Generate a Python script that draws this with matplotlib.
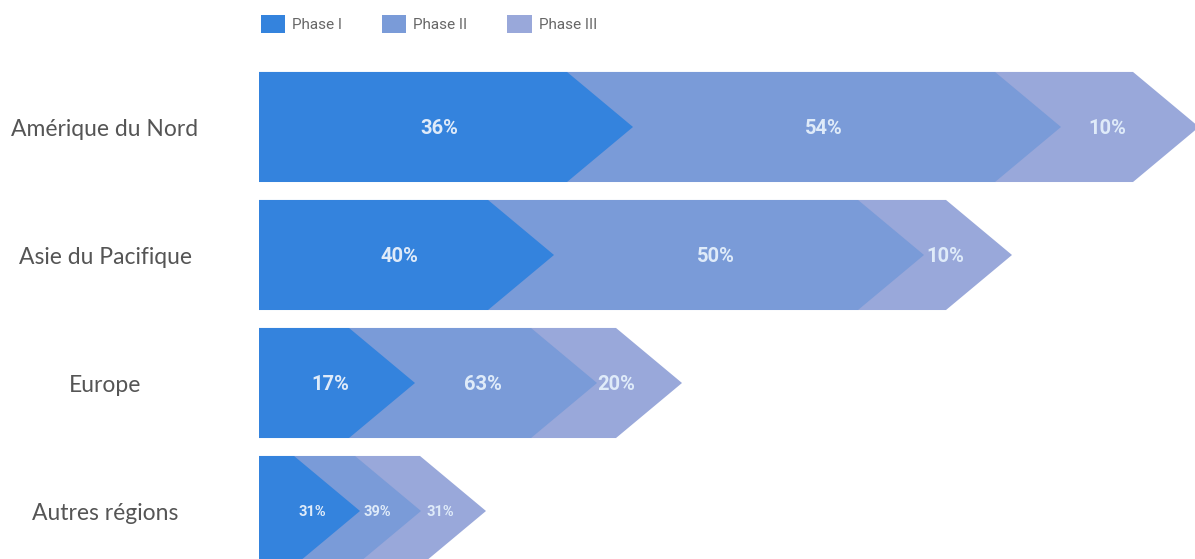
import matplotlib
matplotlib.use('Agg')
import matplotlib.pyplot as plt
from matplotlib.patches import Polygon, Patch

# data (segment lengths, labels as printed)
regions = ['Amérique du Nord', 'Asie du Pacifique', 'Europe', 'Autres régions']
phases = ['Phase I', 'Phase II', 'Phase III']
phase1 = [341, 262, 123, 68]
phase2 = [428, 370, 182, 61]
phase3 = [138, 88, 85, 65]
labels1 = ['36%', '40%', '17%', '31%']
labels2 = ['54%', '50%', '63%', '39%']
labels3 = ['10%', '10%', '20%', '31%']

colors = ['#3483DD', '#7A9BD8', '#99A8DA']
tip = 66          # arrow tip length, x units
bar_h = 0.86


def chevron(x0, x1, y, h, first):
    half = tip / 2
    top, bot = y - h / 2, y + h / 2
    left = x0 if first else x0 - half
    return [(left, top), (x1 - half, top), (x1 + half, y),
            (x1 - half, bot), (left, bot)]


fig = plt.figure(figsize=(11.95, 5.59), dpi=100)
ax = fig.add_axes([0, 0, 1, 1])
ax.set_xlim(-259, 936)
ax.set_ylim(3.375, -0.992)
ax.axis('off')

series = [phase1, phase2, phase3]
texts = [labels1, labels2, labels3]
for i, region in enumerate(regions):
    start = 0
    total = sum(s[i] for s in series)
    fs = 14.5 if total > 300 else 10.5
    shift = 0.15 if total > 300 else 0.3
    for j, vals in enumerate(series):
        end = start + vals[i]
        poly = Polygon(chevron(start, end, i, bar_h, j == 0), closed=True,
                       facecolor=colors[j], edgecolor='none', zorder=10 - j)
        ax.add_patch(poly)
        ax.text((start + end) / 2 + tip * shift, i + 0.01, texts[j][i],
                ha='center', va='center', color='#DFEBF9', fontsize=fs,
                fontweight='bold', family=['Roboto', 'DejaVu Sans'], zorder=20)
        start = end
    ax.text(-154, i + 0.02, region, ha='center', va='center', fontsize=16.5,
            color='#555555', family=['Lato', 'DejaVu Sans'])

handles = [Patch(facecolor=c, edgecolor='none') for c in colors]
leg = ax.legend(handles, phases, loc='upper left', ncol=3, frameon=False,
                bbox_to_anchor=(261 / 1195, 1 - 15 / 559),
                prop={'family': ['Roboto', 'DejaVu Sans'], 'size': 11},
                handlelength=1.6, handleheight=1.45, handletextpad=0.45,
                columnspacing=2.6, borderaxespad=0, borderpad=0)
for t in leg.get_texts():
    t.set_color('#666666')

fig.savefig('out.png', dpi=100)
